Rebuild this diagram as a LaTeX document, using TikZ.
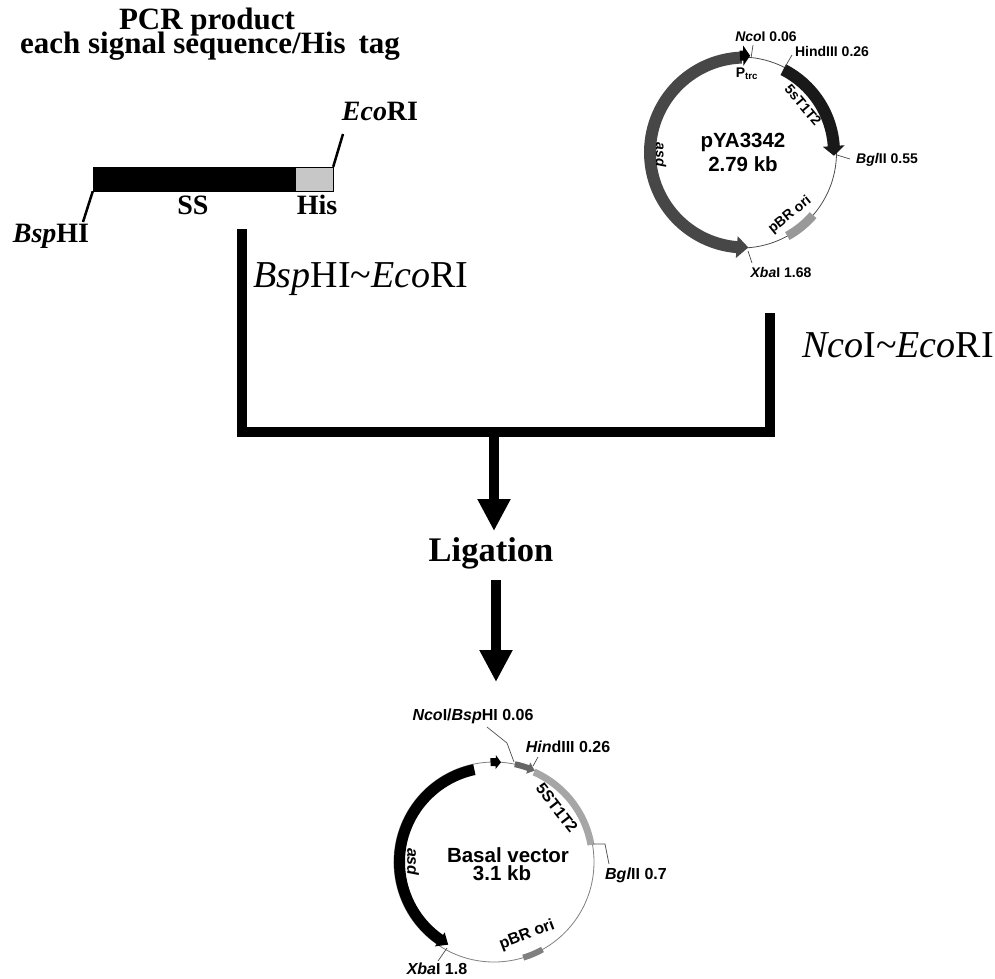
\documentclass[tikz,border=0pt]{standalone}
\usepackage{fontspec}
\setmainfont{Liberation Serif}
\setsansfont{Liberation Sans}
\usetikzlibrary{arrows.meta}
\tikzset{
  titletext/.style={font=\rmfamily\bfseries\fontsize{31}{31}\selectfont,inner sep=0pt},
  sitetext/.style={font=\rmfamily\bfseries\fontsize{28}{28}\selectfont,inner sep=0pt},
  steptext/.style={font=\rmfamily\fontsize{38}{38}\selectfont,inner sep=0pt},
  ligtext/.style={font=\rmfamily\bfseries\fontsize{34.5}{34.5}\selectfont,inner sep=0pt},
  maptext/.style={font=\sffamily\bfseries\fontsize{14}{14}\selectfont,inner sep=0pt},
  basaltext/.style={font=\sffamily\bfseries\fontsize{16}{16}\selectfont,inner sep=0pt},
  nametext/.style={font=\sffamily\bfseries\fontsize{20.5}{20.5}\selectfont,inner sep=0pt},
  fatline/.style={line width=10pt},
  fatarrow/.style={line width=10pt,-{Triangle[length=32pt,width=31pt]}},
  siteline/.style={line width=2.5pt},
  tickline/.style={line width=.7pt,black!70}
}
% arc with an arrow head: start, end, inner r, outer r, overhang, head angle (signed), colour
\newcommand{\headarc}[7]{
  \pgfmathsetmacro{\arcmid}{#2-#6}
  \fill[#7] (#1:#4) arc[start angle=#1,end angle=\arcmid,radius=#4]
    -- (\arcmid:#4+#5) -- (#2:#3/2+#4/2) -- (\arcmid:#3-#5) -- (\arcmid:#3)
    arc[start angle=\arcmid,end angle=#1,radius=#3] -- cycle;
}
\newcommand{\plainarc}[5]{
  \fill[#5] (#1:#4) arc[start angle=#1,end angle=#2,radius=#4]
    -- (#2:#3) arc[start angle=#2,end angle=#1,radius=#3] -- cycle;
}
\begin{document}
\begin{tikzpicture}[x=1pt,y=-1pt]
  \useasboundingbox (0,0) rectangle (995,978);

  \node[titletext] (pcrtitle) at (207,22) {PCR product};
  \node[titletext] (sstitle) at (210,46) {each signal sequence/His\, tag};

  \node[fill=black,draw=black,minimum width=202pt,minimum height=24pt,inner sep=0pt] (ssbar) at (194,179) {};
  \node[fill=black!22,draw=black,minimum width=38pt,minimum height=24pt,inner sep=0pt] (hisbar) at (314,179) {};
  \node[sitetext] (ecolabel) at (380,111) {\textit{Eco}RI};
  \node[sitetext] (bsplabel) at (51,236) {\textit{Bsp}HI};
  \node[sitetext] (sslabel) at (193,205) {SS};
  \node[sitetext] (hislabel) at (317,205) {His};
  \coordinate (ecotop) at (343,134);
  \coordinate (bspbottom) at (83,222);
  \draw[siteline] (hisbar.north east) to (ecotop);
  \draw[siteline] (ssbar.south west) to (bspbottom);

  \node[steptext] (bspcut) at (361,279) {\textit{Bsp}HI\char`\~\textit{Eco}RI};
  \node[steptext] (ncocut) at (898,345) {\textit{Nco}I\char`\~\textit{Eco}RI};
  \coordinate (leftend) at (242,229);
  \coordinate (rightend) at (770,313);
  \coordinate (joinpoint) at (494,431.5);
  \draw[fatline] (leftend) |- (rightend |- joinpoint) -- (rightend);

  \node[ligtext] (ligation) at (491,553) {Ligation};
  \coordinate (ligstart) at (496,580);
  \coordinate (ligend) at (496,682);
  \coordinate (jointip) at (494,531);
  \draw[fatarrow] (joinpoint) to (jointip);
  \draw[fatarrow] (ligstart) to (ligend);

  % upper plasmid
  \begin{scope}[shift={(741,152.5)},y=1pt]
    \draw[line width=.8pt,black!70] (0,0) circle[radius=95.5];
    \headarc{63}{-2}{87}{99}{5}{-6}{black!90}
    \plainarc{-41}{-61}{91}{100}{black!40}
  \end{scope}
  \begin{scope}[shift={(745,152.5)},y=1pt]
    \headarc{92}{272}{89}{101}{5}{7}{black!72}
    \headarc{93}{87}{92}{102}{5}{-4}{black}
  \end{scope}
  \node[nametext] (vectorname) at (743,142) {pYA3342};
  \node[nametext] (vectorsize) at (743,164) {2.79 kb};
  \node[maptext] (ncosite) at (766,37) {\textit{Nco}I 0.06};
  \node[maptext] (hindsite) at (832,51) {HindIII 0.26};
  \node[maptext] (bglsite) at (887,160) {\textit{Bgl}II 0.55};
  \node[maptext] (xbasite) at (781,272) {\textit{Xba}I 1.68};
  \node[maptext] (ptrclabel) at (747,74) {P\textsubscript{trc}};
  \node[maptext,rotate=-90] (asdlabel) at (661,155) {\textit{asd}};
  \node[maptext,rotate=-50] (termlabel) at (803,105) {5sT1T2};
  \node[maptext,rotate=39] (orilabel) at (790,215) {pBR ori};
  \coordinate (ncotop) at (753,45);
  \coordinate (ncotick) at (751,58);
  \coordinate (hindtop) at (792,55);
  \coordinate (hindtick) at (785,67);
  \coordinate (bgltop) at (850,159);
  \coordinate (bgltick) at (837,155);
  \coordinate (xbatop) at (752,263);
  \coordinate (xbatick) at (748,251);
  \draw[tickline] (ncotop) to (ncotick);
  \draw[tickline] (hindtop) to (hindtick);
  \draw[tickline] (bgltop) to (bgltick);
  \draw[tickline] (xbatop) to (xbatick);

  % lower plasmid
  \begin{scope}[shift={(494,862)},y=1pt]
    \draw[line width=.8pt,black!50] (0,0) circle[radius=100];
    \headarc{102}{241}{89}{100}{3}{6}{black}
    \headarc{92}{86}{96}{104}{3}{-3}{black}
    \headarc{78}{66}{97}{103}{3}{-4}{black!60}
    \plainarc{66}{10}{95}{102}{black!35}
    \plainarc{-61}{-73}{97}{103}{black!50}
  \end{scope}
  \node[nametext] (basalname) at (508,855) {Basal vector};
  \node[nametext] (basalsize) at (502,873) {3.1 kb};
  \node[basaltext] (ncobsp) at (473,716) {\textit{Nco}I/\textit{Bsp}HI 0.06};
  \node[basaltext] (hindbasal) at (568,747) {\textit{Hin}dIII 0.26};
  \node[basaltext] (bglbasal) at (636,875) {\textit{Bgl}II 0.7};
  \node[basaltext] (xbabasal) at (437,969) {\textit{Xba}I 1.8};
  \node[basaltext,rotate=-90] (asdbasal) at (413,862) {\textit{asd}};
  \node[basaltext,rotate=-52] (termbasal) at (557,808) {5ST1T2};
  \node[basaltext,rotate=21] (oribasal) at (527,935) {pBR ori};
  \coordinate (ncostart) at (487,727);
  \coordinate (ncobend) at (507,743);
  \coordinate (ncofoot) at (514,762);
  \coordinate (hindstart) at (538,757);
  \coordinate (hindfoot) at (533,766);
  \coordinate (bglfoot) at (593,844);
  \coordinate (bglbend) at (605,844);
  \coordinate (bglstart) at (609,864);
  \coordinate (xbastart) at (438,961);
  \coordinate (xbafoot) at (447,948);
  \draw[tickline] (ncostart) -- (ncobend) -- (ncofoot);
  \draw[tickline] (hindstart) to (hindfoot);
  \draw[tickline] (bglfoot) -- (bglbend) -- (bglstart);
  \draw[tickline] (xbastart) to (xbafoot);
\end{tikzpicture}
\end{document}
